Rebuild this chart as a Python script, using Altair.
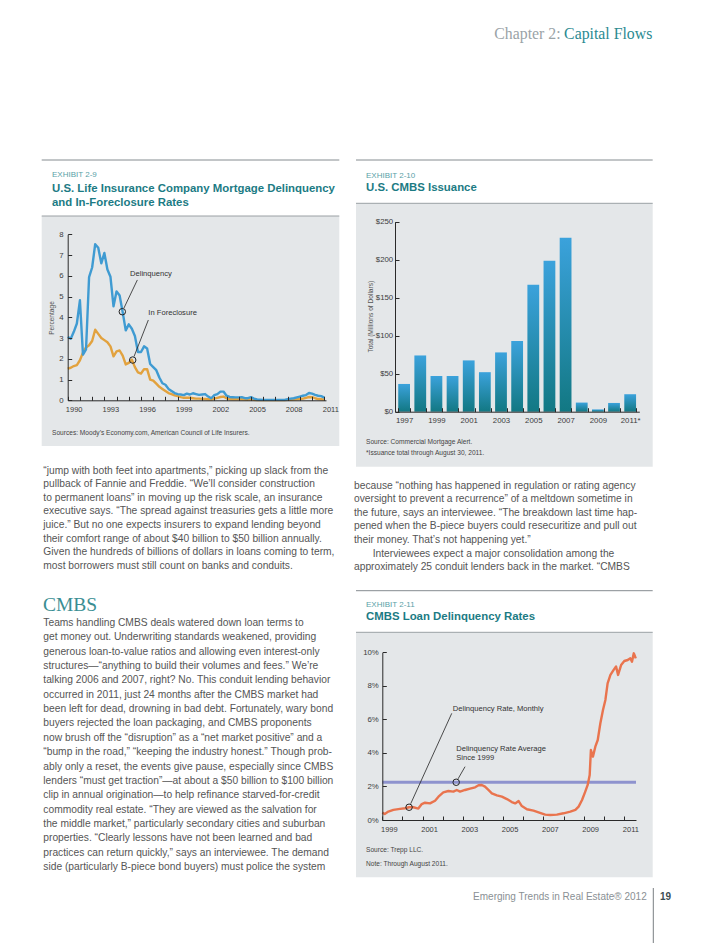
import altair as alt
import pandas as pd

# ---------------- data ----------------
# Exhibit 2-9: quarterly, 1990 Q1 .. 2011 Q1 (percent)
life_delinquency = [
    3.05, 2.97, 3.30, 3.70,  4.82, 2.20, 2.45, 5.94,  6.40, 7.52, 7.35, 6.60,
    7.10, 6.30, 5.95, 4.53,  5.25, 5.05, 4.25, 3.37,  3.66, 3.45, 3.10, 2.33,
    2.33, 2.60, 2.50, 1.75,  1.60, 1.45, 1.10, 0.82,  0.75, 0.55, 0.45, 0.35,
    0.30, 0.28, 0.25, 0.32,  0.28, 0.34, 0.30, 0.26,  0.28, 0.30, 0.18, 0.10,
    0.25, 0.30, 0.42, 0.42,  0.22, 0.16, 0.15, 0.14,  0.14, 0.15, 0.10, 0.10,
    0.15, 0.08, 0.04, 0.03,  0.02, 0.02, 0.02, 0.02,  0.02, 0.02, 0.02, 0.02,
    0.05, 0.08, 0.10, 0.14,  0.18, 0.22, 0.25, 0.35,  0.32, 0.26, 0.22, 0.20,
    0.13]
life_foreclosure = [
    1.53, 1.57, 1.65, 1.70,  1.93, 2.30, 2.55, 2.65,  2.86, 3.40, 3.20, 3.00,
    2.90, 2.80, 2.60, 2.12,  2.36, 2.40, 2.15, 1.73,  1.80, 1.96, 1.60, 1.35,
    1.29, 1.50, 1.50, 1.00,  0.95, 0.80, 0.65, 0.55,  0.45, 0.35, 0.30, 0.24,
    0.20, 0.15, 0.12, 0.13,  0.12, 0.10, 0.08, 0.08,  0.07, 0.06, 0.05, 0.04,
    0.08, 0.12, 0.16, 0.18,  0.10, 0.06, 0.05, 0.05,  0.05, 0.05, 0.04, 0.03,
    0.05, 0.02, 0.01, 0.01,  0.01, 0.01, 0.01, 0.01,  0.01, 0.01, 0.01, 0.01,
    0.02, 0.03, 0.04, 0.05,  0.06, 0.08, 0.12, 0.16,  0.15, 0.10, 0.06, 0.05,
    0.03]
life_quarters = [1990 + i / 4 for i in range(len(life_delinquency))]
life_labels = ["Delinquency", "In Foreclosure"]
life_circle_x = [1994.47, 1995.32]
life_circle_y = [4.27, 1.94]
life_lead_x0 = [1994.60, 1995.43]
life_lead_y0 = [4.44, 2.11]
life_lead_x1 = [1995.70, 1996.60]
life_lead_y1 = [5.80, 3.87]
life_label_x = [1995.10, 1996.60]
life_label_y = [6.09, 4.22]

# Exhibit 2-10: CMBS issuance
cmbs_years = ["1997", "1998", "1999", "2000", "2001", "2002", "2003", "2004",
              "2005", "2006", "2007", "2008", "2009", "2010", "2011*"]
cmbs_issuance = [36.5, 74, 47, 47, 67.5, 52, 78, 93, 167, 198.5, 229, 12, 3, 11.5, 23]
cmbs_labeled_years = ["1997", "1999", "2001", "2003", "2005", "2007", "2009", "2011*"]

# Exhibit 2-11: CMBS delinquency (monthly readings)
trepp_t = [1999.00, 1999.12, 1999.30, 1999.55, 1999.88, 2000.13, 2000.33, 2000.54,
           2000.79, 2000.96, 2001.12, 2001.37, 2001.62, 2001.79, 2002.03, 2002.28,
           2002.53, 2002.70, 2002.86, 2003.11, 2003.36, 2003.61, 2003.78, 2003.94,
           2004.10, 2004.27, 2004.44, 2004.69, 2004.94, 2005.19, 2005.43, 2005.60,
           2005.77, 2005.93, 2006.18, 2006.51, 2006.76, 2007.09, 2007.34, 2007.67,
           2008.00, 2008.34, 2008.59, 2008.75, 2008.92, 2009.08, 2009.20, 2009.30,
           2009.36, 2009.46, 2009.58, 2009.70, 2009.83, 2009.96, 2010.08, 2010.19,
           2010.33, 2010.49, 2010.61, 2010.71, 2010.86, 2011.02, 2011.19, 2011.32,
           2011.40, 2011.49, 2011.59]
trepp_rate = [0.44, 0.36, 0.50, 0.60, 0.66, 0.70, 0.76, 0.76,
              0.68, 0.95, 1.03, 0.99, 1.15, 1.39, 1.65, 1.73,
              1.69, 1.79, 1.69, 1.79, 1.87, 1.95, 2.07, 2.09,
              1.99, 1.79, 1.59, 1.47, 1.39, 1.25, 1.07, 0.99,
              1.13, 0.83, 0.64, 0.56, 0.46, 0.32, 0.30, 0.32,
              0.40, 0.50, 0.60, 0.80, 1.19, 1.69, 2.09, 2.68,
              4.17, 3.78, 4.37, 4.77, 5.77, 6.56, 7.16, 8.15,
              8.65, 8.95, 9.15, 8.65, 9.24, 9.48, 9.54, 9.64,
              9.44, 9.94, 9.64]
trepp_average = [2.25]
trepp_labels = ["Delinquency Rate, Monthly", "Delinquency Rate Average"]
trepp_circle_x = [2000.33, 2002.67]
trepp_circle_y = [0.76, 2.25]
trepp_lead_x0 = [2000.41, 2002.76]
trepp_lead_y0 = [0.97, 2.45]
trepp_lead_x1 = [2002.45, 2003.11]
trepp_lead_y1 = [6.36, 3.18]

# ---------------- text ----------------
header_grey = "Chapter 2:"
header_teal = "Capital Flows"
ex1_tag = "EXHIBIT 2-9"
ex1_title = ["U.S. Life Insurance Company Mortgage Delinquency", "and In-Foreclosure Rates"]
ex1_ytitle = "Percentage"
ex1_source = "Sources: Moody\u2019s Economy.com, American Council of Life Insurers."
ex2_tag = "EXHIBIT 2-10"
ex2_title = "U.S. CMBS Issuance"
ex2_ytitle = "Total (Millions of Dollars)"
ex2_source = ["Source: Commercial Mortgage Alert.", "*Issuance total through August 30, 2011."]
ex3_tag = "EXHIBIT 2-11"
ex3_title = "CMBS Loan Delinquency Rates"
ex3_source = ["Source: Trepp LLC.", "Note: Through August 2011."]
ex3_avg_label = ["Delinquency Rate Average", "Since 1999"]

para_left_1 = [
    "\u201cjump with both feet into apartments,\u201d picking up slack from the",
    "pullback of Fannie and Freddie. \u201cWe\u2019ll consider construction",
    "to permanent loans\u201d in moving up the risk scale, an insurance",
    "executive says. \u201cThe spread against treasuries gets a little more",
    "juice.\u201d But no one expects insurers to expand lending beyond",
    "their comfort range of about $40 billion to $50 billion annually.",
    "Given the hundreds of billions of dollars in loans coming to term,",
    "most borrowers must still count on banks and conduits.",
]
heading_cmbs = "CMBS"
para_left_2 = [
    "Teams handling CMBS deals watered down loan terms to",
    "get money out. Underwriting standards weakened, providing",
    "generous loan-to-value ratios and allowing even interest-only",
    "structures\u2014\u201canything to build their volumes and fees.\u201d We\u2019re",
    "talking 2006 and 2007, right? No. This conduit lending behavior",
    "occurred in 2011, just 24 months after the CMBS market had",
    "been left for dead, drowning in bad debt. Fortunately, wary bond",
    "buyers rejected the loan packaging, and CMBS proponents",
    "now brush off the \u201cdisruption\u201d as a \u201cnet market positive\u201d and a",
    "\u201cbump in the road,\u201d \u201ckeeping the industry honest.\u201d Though prob-",
    "ably only a reset, the events give pause, especially since CMBS",
    "lenders \u201cmust get traction\u201d\u2014at about a $50 billion to $100 billion",
    "clip in annual origination\u2014to help refinance starved-for-credit",
    "commodity real estate. \u201cThey are viewed as the salvation for",
    "the middle market,\u201d particularly secondary cities and suburban",
    "properties. \u201cClearly lessons have not been learned and bad",
    "practices can return quickly,\u201d says an interviewee. The demand",
    "side (particularly B-piece bond buyers) must police the system",
]
para_right_1 = [
    "because \u201cnothing has happened in regulation or rating agency",
    "oversight to prevent a recurrence\u201d of a meltdown sometime in",
    "the future, says an interviewee. \u201cThe breakdown last time hap-",
    "pened when the B-piece buyers could resecuritize and pull out",
    "their money. That\u2019s not happening yet.\u201d",
]
para_right_2 = "Interviewees expect a major consolidation among the"
para_right_3 = "approximately 25 conduit lenders back in the market. \u201cCMBS"
footer_text = "Emerging Trends in Real Estate\u00ae 2012"
footer_page = "19"

# ---------------- styles ----------------
W, H = 728, 943
SANS = "Liberation Sans, Arial, Helvetica, sans-serif"
SERIF = "Liberation Serif, Times New Roman, serif"
PANEL = "#e4e7e9"
RULE = "#858c90"
TEAL_TITLE = "#1c7b84"
TEAL_TAG = "#58a1a7"
BODY = "#555555"
AXIS_C = "#2a2a2a"
LABEL_C = "#3c3c3c"
BLUE = "#3f9bd2"
ORANGE = "#e2a23e"
RED = "#e9744e"
AVG = "#8e93ce"
SMALL = 6.6
ANN = 7.6

one = pd.DataFrame({"k": [0]})


def txt(content, x, y, size, color, font=SANS, weight="normal", align="left",
        baseline="middle", angle=0, line_height=None):
    kw = dict(text=content, fontSize=size, color=color, font=font, fontWeight=weight,
              align=align, baseline=baseline, angle=angle)
    if line_height is not None:
        kw["lineHeight"] = line_height
    return alt.Chart(one).mark_text(**kw).encode(x=alt.value(x), y=alt.value(y))


def rect(x0, x1, y0, y1, color):
    return alt.Chart(one).mark_rect(color=color).encode(
        x=alt.value(x0), x2=alt.value(x1), y=alt.value(y0), y2=alt.value(y1))


def hrule(x0, x1, y, color=RULE, w=1):
    return alt.Chart(one).mark_rule(color=color, strokeWidth=w).encode(
        x=alt.value(x0), x2=alt.value(x1), y=alt.value(y))


def x_axis(axis_y, **kw):
    return alt.Axis(orient="top", offset=-axis_y, title=None, grid=False, zindex=2,
                    domainColor=AXIS_C, domainWidth=1, tickColor=AXIS_C, tickWidth=1,
                    tickSize=4, labelFont=SANS, labelColor=LABEL_C, labelAngle=0,
                    labelFlush=False, labelOverlap=False, labelBaseline="middle",
                    labelAlign="center", **kw)


def y_axis(axis_x, **kw):
    return alt.Axis(orient="right", offset=axis_x - W, title=None, grid=False, zindex=2,
                    domainColor=AXIS_C, domainWidth=1, tickColor=AXIS_C, tickWidth=1,
                    tickSize=4, labelFont=SANS, labelColor=LABEL_C,
                    labelFlush=False, labelOverlap=False, labelBaseline="middle",
                    labelAlign="right", **kw)


# ---------------- Exhibit 2-9 ----------------
life_df = pd.DataFrame({"year": life_quarters, "delinquency": life_delinquency,
                        "foreclosure": life_foreclosure})
life_ann = pd.DataFrame({"label": life_labels, "cx": life_circle_x, "cy": life_circle_y,
                         "x0": life_lead_x0, "y0": life_lead_y0, "x1": life_lead_x1,
                         "y1": life_lead_y1, "lx": life_label_x, "ly": life_label_y})
sx1 = alt.Scale(domain=[1990, 2011.14], range=[67.7, 326.0], nice=False, zero=False)
sy1 = alt.Scale(domain=[0, 8], range=[400.3, 234.3], nice=False, zero=True)
ax1x = x_axis(400.3, values=list(range(1990, 2012)),
              labelExpr="(datum.value - 1990) % 3 == 0 ? '' + datum.value : ''",
              labelOffset=6, labelPadding=-13, labelFontSize=7.5)
ax1y = y_axis(67.7, values=list(range(0, 9)), labelPadding=-8.5, labelFontSize=7.8)


def X1(field):
    return alt.X(field, scale=sx1, axis=ax1x)


def Y1(field):
    return alt.Y(field, scale=sy1, axis=ax1y)


ex1 = alt.layer(
    alt.Chart(life_df).mark_line(color=ORANGE, strokeWidth=2.4, strokeJoin="round").encode(
        x=X1("year:Q"), y=Y1("foreclosure:Q")),
    alt.Chart(life_df).mark_line(color=BLUE, strokeWidth=2.4, strokeJoin="round").encode(
        x=X1("year:Q"), y=Y1("delinquency:Q")),
    alt.Chart(life_ann).mark_rule(color="#222222", strokeWidth=0.8).encode(
        x=X1("x0:Q"), y=Y1("y0:Q"), x2="x1:Q", y2="y1:Q"),
    alt.Chart(life_ann).mark_point(shape="circle", filled=False, color="#222222",
                                   strokeWidth=1, size=42, opacity=1).encode(
        x=X1("cx:Q"), y=Y1("cy:Q")),
    alt.Chart(life_ann).mark_text(font=SANS, fontSize=ANN, color="#333333", align="left",
                                  baseline="middle").encode(
        x=X1("lx:Q"), y=Y1("ly:Q"), text="label:N"),
)

# ---------------- Exhibit 2-10 ----------------
cmbs_df = pd.DataFrame({"year": cmbs_years, "issuance": cmbs_issuance})
sx2 = alt.Scale(domain=cmbs_years, range=[395.0, 639.3], paddingInner=0.27, paddingOuter=0.2)
sy2 = alt.Scale(domain=[0, 250], range=[411.7, 221.7], nice=False)
labeled = "[" + ",".join("'%s'" % y for y in cmbs_labeled_years) + "]"
ax2x = x_axis(411.7, tickBand="extent",
              labelExpr="indexof(%s, datum.value) >= 0 ? datum.value : ''" % labeled,
              labelPadding=-12.3, labelFontSize=7.8)
ax2y = y_axis(395.0, values=[0, 50, 100, 150, 200, 250], labelExpr="'$' + datum.value",
              labelPadding=-6.3, labelFontSize=7.8)
bar_grad = alt.LinearGradient(
    gradient="linear",
    stops=[alt.GradientStop(color="#3ba2dc", offset=0),
           alt.GradientStop(color="#127883", offset=1)],
    x1=0, x2=0, y1=0, y2=1)
ex2 = alt.Chart(cmbs_df).mark_bar(color=bar_grad).encode(
    x=alt.X("year:N", scale=sx2, sort=None, axis=ax2x),
    y=alt.Y("issuance:Q", scale=sy2, axis=ax2y))

# ---------------- Exhibit 2-11 ----------------
trepp_df = pd.DataFrame({"t": trepp_t, "rate": trepp_rate})
avg_df = pd.DataFrame({"t0": [1999.0], "t1": [2011.6], "avg": trepp_average})
trepp_ann = pd.DataFrame({"cx": trepp_circle_x, "cy": trepp_circle_y,
                          "x0": trepp_lead_x0, "y0": trepp_lead_y0,
                          "x1": trepp_lead_x1, "y1": trepp_lead_y1})
monthly_label = pd.DataFrame({"lx": [2002.50], "ly": [6.62], "label": [trepp_labels[0]]})
avg_label = pd.DataFrame({"lx": [2002.67], "ly": [4.11]})
sx3 = alt.Scale(domain=[1999, 2011.6], range=[382.3, 636.0], nice=False, zero=False)
sy3 = alt.Scale(domain=[0, 10], range=[820.0, 652.3], nice=False)
ax3x = x_axis(820.0, values=list(range(1999, 2012)),
              labelExpr="datum.value % 2 == 1 ? '' + datum.value : ''",
              labelOffset=6.5, labelPadding=-13, labelFontSize=7.5)
ax3y = y_axis(382.3, values=[0, 2, 4, 6, 8, 10], labelExpr="datum.value + '%'",
              labelPadding=-8, labelFontSize=7.8)


def X3(field):
    return alt.X(field, scale=sx3, axis=ax3x)


def Y3(field):
    return alt.Y(field, scale=sy3, axis=ax3y)


ex3 = alt.layer(
    alt.Chart(avg_df).mark_rule(color=AVG, strokeWidth=3).encode(
        x=X3("t0:Q"), x2="t1:Q", y=Y3("avg:Q")),
    alt.Chart(trepp_df).mark_line(color=RED, strokeWidth=2.4, strokeJoin="round").encode(
        x=X3("t:Q"), y=Y3("rate:Q")),
    alt.Chart(trepp_ann).mark_rule(color="#222222", strokeWidth=0.8).encode(
        x=X3("x0:Q"), y=Y3("y0:Q"), x2="x1:Q", y2="y1:Q"),
    alt.Chart(trepp_ann).mark_point(shape="circle", filled=False, color="#222222",
                                    strokeWidth=1, size=42, opacity=1).encode(
        x=X3("cx:Q"), y=Y3("cy:Q")),
    alt.Chart(monthly_label).mark_text(font=SANS, fontSize=ANN, color="#333333",
                                       align="left", baseline="middle").encode(
        x=X3("lx:Q"), y=Y3("ly:Q"), text="label:N"),
    alt.Chart(avg_label).mark_text(text=ex3_avg_label, font=SANS, fontSize=ANN,
                                   color="#333333", align="left", baseline="alphabetic",
                                   lineHeight=8.7).encode(
        x=X3("lx:Q"), y=Y3("ly:Q")),
)

# ---------------- page assembly ----------------
BODY_SIZE = 10.25
layers = [
    # panels and rules
    rect(41.7, 339.3, 216.0, 446.0, PANEL),
    rect(356.0, 652.7, 203.3, 466.7, PANEL),
    rect(356.0, 652.7, 632.3, 877.3, PANEL),
    hrule(41.7, 339.3, 160.0), hrule(41.7, 339.3, 216.0, "#9aa0a4"),
    hrule(356.0, 652.7, 160.0), hrule(356.0, 652.7, 203.3, "#9aa0a4"),
    hrule(356.0, 652.7, 590.7), hrule(356.0, 652.7, 632.3, "#9aa0a4"),
    alt.Chart(one).mark_rule(color="#7a7f82", strokeWidth=1).encode(
        x=alt.value(653.3), y=alt.value(888.0), y2=alt.value(943.0)),
    # header / footer
    txt(header_grey, 494.3, 34.3, 15.8, "#9aa3a7", font=SERIF),
    txt(header_teal, 652.3, 34.3, 15.8, "#2b8a91", font=SERIF, align="right"),
    txt(footer_text, 646.7, 896.7, 10, "#8a9094", align="right"),
    txt(footer_page, 660.0, 896.7, 10, "#3d4d53", weight="bold"),
    # exhibit texts
    txt(ex1_tag, 52.0, 175.0, 8, TEAL_TAG),
    txt(ex1_title, 52.0, 192.4, 11.4, TEAL_TITLE, weight="bold", baseline="alphabetic",
        line_height=13.4),
    txt(ex1_ytitle, 51.7, 318.0, 6.6, "#555555", align="center", angle=270),
    txt(ex1_source, 52.0, 433.3, SMALL, "#444444"),
    txt(ex2_tag, 366.0, 176.0, 8, TEAL_TAG),
    txt(ex2_title, 366.0, 188.3, 11.4, TEAL_TITLE, weight="bold"),
    txt(ex2_ytitle, 370.7, 316.7, 6.6, "#555555", align="center", angle=270),
    txt(ex2_source, 366.0, 443.5, SMALL, "#444444", baseline="alphabetic",
        line_height=11.3),
    txt(ex3_tag, 366.0, 605.0, 8, TEAL_TAG),
    txt(ex3_title, 366.0, 616.7, 11.4, TEAL_TITLE, weight="bold"),
    txt(ex3_source, 366.0, 851.8, SMALL, "#444444", baseline="alphabetic",
        line_height=14.0),
    # body text
    txt(para_left_1, 43.3, 473.7, BODY_SIZE, BODY, baseline="alphabetic", line_height=13.6),
    txt(heading_cmbs, 43.0, 605.0, 19.5, "#3a8e93", font=SERIF),
    txt(para_left_2, 43.3, 626.0, BODY_SIZE, BODY, baseline="alphabetic", line_height=14.35),
    txt(para_right_1, 354.0, 488.7, BODY_SIZE, BODY, baseline="alphabetic", line_height=13.6),
    txt(para_right_2, 372.7, 556.7, BODY_SIZE, BODY, baseline="alphabetic"),
    txt(para_right_3, 354.0, 570.3, BODY_SIZE, BODY, baseline="alphabetic"),
    # charts
    ex1, ex2, ex3,
]

chart = alt.layer(*layers).resolve_scale(
    x="independent", y="independent"
).resolve_axis(
    x="independent", y="independent"
).properties(
    width=W, height=H, padding=0,
    autosize=alt.AutoSizeParams(type="none"), background="white"
).configure_view(stroke=None)

chart.save("out.html", embed_options={"renderer": "svg", "actions": False})
